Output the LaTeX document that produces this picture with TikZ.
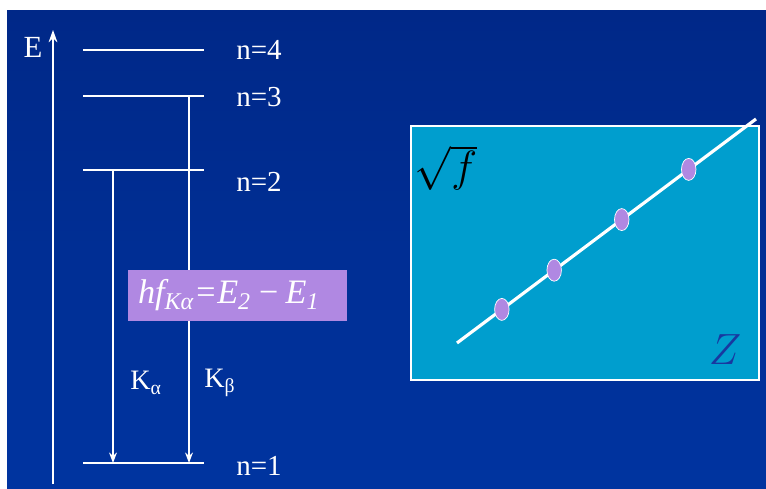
\documentclass[tikz,border=0pt]{standalone}
\usepackage{fontspec}
\setmainfont{Liberation Serif}
\usepackage{tikz}
\usetikzlibrary{shapes.geometric, arrows.meta, positioning}
\definecolor{slidetop}{RGB}{0,40,136}
\definecolor{slidebot}{RGB}{0,52,160}
\definecolor{panelblue}{RGB}{0,158,206}
\definecolor{lilac}{RGB}{176,136,226}
\definecolor{zblue}{RGB}{24,56,160}
\tikzstyle{level} = [white, line width=1.1pt]
\tikzstyle{trans} = [white, line width=0.8pt, -{Stealth[length=6pt,width=4.5pt]}]
\tikzstyle{lbl} = [text=white, inner sep=0pt, font=\fontsize{16.5}{18}\selectfont]
\tikzstyle{klbl} = [text=white, inner sep=0pt, font=\fontsize{16}{18}\selectfont]
\tikzstyle{formula} = [rectangle, fill=lilac, text=white,
inner xsep=0.2cm, text width=3.98cm, align=left,
minimum height=1.02cm,
font=\fontsize{19.5}{22}\selectfont]
\tikzstyle{dot} = [ellipse, fill=lilac, draw=white, line width=0.4pt,
minimum width=0.29cm, minimum height=0.44cm, inner sep=0pt]

\begin{document}
\begin{tikzpicture}[x=0.02cm, y=-0.02cm]
% slide background
\fill[white] (0,0) rectangle (766,489);
\shade[top color=slidetop, bottom color=slidebot] (7,11) rectangle (766,489);

% energy axis
\coordinate (ebot) at (53,484);
\coordinate (etop) at (53,30);
\draw[white, line width=1pt, -{Stealth[length=7pt,width=5pt]}] (ebot) -- (etop);
\node[lbl, font=\fontsize{17.5}{19}\selectfont] (elab) at (33,47) {E};

% levels
\coordinate (l4a) at (83,50);  \coordinate (l4b) at (204,50);
\coordinate (l3a) at (83,96);  \coordinate (l3b) at (204,96);
\coordinate (l2a) at (83,170); \coordinate (l2b) at (204,170);
\coordinate (l1a) at (83,463); \coordinate (l1b) at (204,463);
\draw[level] (l4a) -- (l4b);
\draw[level] (l3a) -- (l3b);
\draw[level] (l2a) -- (l2b);
\draw[level] (l1a) -- (l1b);
\node[lbl] (n4) at (259,50) {n=4};
\node[lbl] (n3) at (259,97) {n=3};
\node[lbl] (n2) at (259,182) {n=2};
\node[lbl] (n1) at (259,466) {n=1};

% transitions
\coordinate (kat) at (113,170); \coordinate (kab) at (113,463);
\coordinate (kbt) at (189,96);  \coordinate (kbb) at (189,463);
\draw[trans] (kat) -- (kab);
\draw[trans] (kbt) -- (kbb);
\node[klbl] (kalpha) at (146,383) {K\textsubscript{α}};
\node[klbl] (kbeta) at (220,383) {K\textsubscript{β}};

\node[formula] (law) at (237.5,295.5) {\itshape hf\textsubscript{Kα}=E\textsubscript{2}\,−\,E\textsubscript{1}};

% Moseley plot
\draw[white, line width=0.6pt, fill=panelblue] (411,126) rectangle (759,380);
\coordinate (fitA) at (457,343);
\coordinate (fitB) at (756,119);
\draw[white, line width=1.8pt] (fitA) -- (fitB)
  node[dot, pos=0.150] (p1) {}
  node[dot, pos=0.325] (p2) {}
  node[dot, pos=0.551] (p3) {}
  node[dot, pos=0.775] (p4) {};
\node[font=\fontsize{27}{29}\selectfont] (sqf) at (446,168) {$\sqrt{f}$};
\node[text=zblue, font=\fontsize{23}{25}\selectfont] (zlab) at (725,350) {$Z$};
\end{tikzpicture}
\end{document}
